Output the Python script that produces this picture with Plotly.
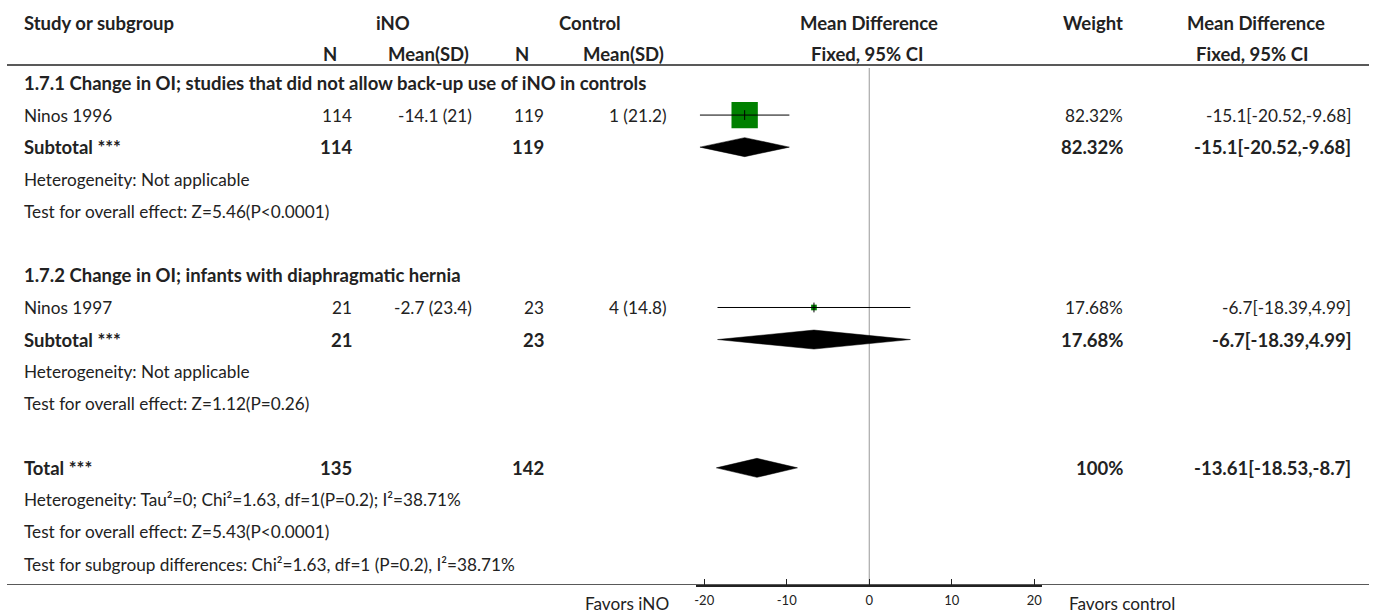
import plotly.graph_objects as go

W, H = 1375, 615
FONT = "Lato"
INK = "#222222"

# ---- study-level data ----
studies = ["Ninos 1996", "Ninos 1997"]
ino_n = [114, 21]
ino_mean = [-14.1, -2.7]
ino_sd = [21, 23.4]
ctl_n = [119, 23]
ctl_mean = [1, 4]
ctl_sd = [21.2, 14.8]
md = [-15.1, -6.7]
ci_lo = [-20.52, -18.39]
ci_hi = [-9.68, 4.99]
weights = [82.32, 17.68]

# ---- subgroup summaries ----
subgroup_titles = [
    "1.7.1 Change in OI; studies that did not allow back-up use of iNO in controls",
    "1.7.2 Change in OI; infants with diaphragmatic hernia",
]
sub_n_ino = [114, 21]
sub_n_ctl = [119, 23]
sub_md = [-15.1, -6.7]
sub_lo = [-20.52, -18.39]
sub_hi = [-9.68, 4.99]
sub_weight = [82.32, 17.68]
sub_het = ["Heterogeneity: Not applicable", "Heterogeneity: Not applicable"]
sub_test = ["Test for overall effect: Z=5.46(P<0.0001)",
            "Test for overall effect: Z=1.12(P=0.26)"]

# ---- overall summary ----
total_n_ino = 135
total_n_ctl = 142
total_md = -13.61
total_lo = -18.53
total_hi = -8.7
total_weight = 100
total_notes = [
    "Heterogeneity: Tau²=0; Chi²=1.63, df=1(P=0.2); I²=38.71%",
    "Test for overall effect: Z=5.43(P<0.0001)",
    "Test for subgroup differences: Chi²=1.63, df=1 (P=0.2), I²=38.71%",
]
axis_ticks = [-20, -10, 0, 10, 20]
axis_tick_labels = ["-20", "-10", "0", "10", "20"]
axis_range = [-21, 21]

# ---- layout geometry (pixels) ----
ROW0, DY = 83, 32.07
AXIS_Y = 585
X_LEFT = 20
X_NI, X_MI, X_NC, X_MC = 353, 473, 545, 668
X_W, X_MD = 1125, 1353
FS, FSB = 17.2, 18.5

def row_y(k):
    return ROW0 + k * DY

def fmt_pct(v):
    return f"{v:g}%"

def fmt_ci(m, lo, hi):
    return f"{m:g}[{lo:g},{hi:g}]"

fig = go.Figure()
ann = []

def txt(x, y, s, anchor="left", bold=False, size=None, xref="x2", yref="y"):
    if size is None:
        size = FSB if bold else FS
    ann.append(dict(x=x, y=y, xref=xref, yref=yref,
                    text=f"<b>{s}</b>" if bold else s,
                    showarrow=False, xanchor=anchor, yanchor="middle",
                    font=dict(family=FONT, size=size, color=INK)))

# column headers
txt(X_LEFT, 22.5, "Study or subgroup", bold=True)
txt(392, 22.5, "iNO", "center", True)
txt(589, 22.5, "Control", "center", True)
txt(868, 22.5, "Mean Difference", "center", True)
txt(X_W, 22.5, "Weight", "right", True)
txt(1256, 22.5, "Mean Difference", "center", True)
txt(337, 54, "N", "right", True)
txt(470, 54, "Mean(SD)", "right", True)
txt(530, 54, "N", "right", True)
txt(665, 54, "Mean(SD)", "right", True)
txt(866, 54, "Fixed, 95% CI", "center", True)
txt(1252, 54, "Fixed, 95% CI", "center", True)

def add_diamond(k, m, lo, hi):
    y = row_y(k)
    h = 9.5
    fig.add_trace(go.Scatter(x=[lo, m, hi, m, lo], y=[y, y - h, y, y + h, y],
                             xaxis="x", yaxis="y", mode="lines", fill="toself",
                             fillcolor="black", line=dict(color="black", width=0.5),
                             hoverinfo="skip", showlegend=False))

for g in range(2):
    base = g * 6
    txt(X_LEFT, row_y(base), subgroup_titles[g], bold=True)
    # study row
    k = base + 1
    y = row_y(k)
    txt(X_LEFT, y, studies[g])
    txt(X_NI, y, str(ino_n[g]), "right")
    txt(X_MI, y, f"{ino_mean[g]:g} ({ino_sd[g]:g})", "right")
    txt(X_NC, y, str(ctl_n[g]), "right")
    txt(X_MC, y, f"{ctl_mean[g]:g} ({ctl_sd[g]:g})", "right")
    txt(X_W, y, fmt_pct(weights[g]), "right")
    txt(X_MD, y, fmt_ci(md[g], ci_lo[g], ci_hi[g]), "right")
    fig.add_trace(go.Scatter(x=[md[g]], y=[y], xaxis="x", yaxis="y", mode="markers",
                             marker=dict(symbol="square", size=weights[g] * 0.32,
                                         color="#008000", line=dict(width=0)),
                             hoverinfo="skip", showlegend=False))
    fig.add_trace(go.Scatter(x=[ci_lo[g], ci_hi[g]], y=[y, y], xaxis="x", yaxis="y",
                             mode="lines", line=dict(color="black", width=1),
                             hoverinfo="skip", showlegend=False))
    fig.add_trace(go.Scatter(x=[md[g]], y=[y], xaxis="x", yaxis="y", mode="markers",
                             marker=dict(symbol="line-ns", size=7,
                                         line=dict(color="black", width=1)),
                             hoverinfo="skip", showlegend=False))
    # subtotal row
    k = base + 2
    y = row_y(k)
    txt(X_LEFT, y, "Subtotal ***", bold=True)
    txt(X_NI, y, str(sub_n_ino[g]), "right", True)
    txt(X_NC, y, str(sub_n_ctl[g]), "right", True)
    txt(X_W, y, fmt_pct(sub_weight[g]), "right", True)
    txt(X_MD, y, fmt_ci(sub_md[g], sub_lo[g], sub_hi[g]), "right", True)
    add_diamond(k, sub_md[g], sub_lo[g], sub_hi[g])
    txt(X_LEFT, row_y(base + 3), sub_het[g])
    txt(X_LEFT, row_y(base + 4), sub_test[g])

# overall effect
k = 12
y = row_y(k)
txt(X_LEFT, y, "Total ***", bold=True)
txt(X_NI, y, str(total_n_ino), "right", True)
txt(X_NC, y, str(total_n_ctl), "right", True)
txt(X_W, y, fmt_pct(total_weight), "right", True)
txt(X_MD, y, fmt_ci(total_md, total_lo, total_hi), "right", True)
add_diamond(k, total_md, total_lo, total_hi)
for i, note in enumerate(total_notes):
    txt(X_LEFT, row_y(13 + i), note)

# axis captions below the scale
txt(670, 1 - 603 / H, "Favors iNO", "right", yref="paper")
txt(1067, 1 - 603 / H, "Favors control", "left", yref="paper")

shapes = [
    dict(type="line", xref="x2", yref="y", x0=5, x1=1369, y0=65, y1=65,
         line=dict(color=INK, width=1.5)),
    dict(type="line", xref="x2", yref="y", x0=5, x1=1369, y0=AXIS_Y, y1=AXIS_Y,
         line=dict(color=INK, width=1.5)),
    dict(type="line", xref="x", yref="y", x0=0, x1=0, y0=68, y1=AXIS_Y,
         line=dict(color="#999999", width=1), layer="below"),
]

fig.update_layout(
    width=W, height=H, margin=dict(l=0, r=0, t=0, b=0),
    paper_bgcolor="white", plot_bgcolor="rgba(0,0,0,0)",
    xaxis=dict(domain=[695 / W, 1042 / W], range=axis_range, tickvals=axis_ticks,
               ticktext=axis_tick_labels, ticklabelstandoff=3,
               ticks="inside", ticklen=6, tickcolor=INK, showline=True, linecolor=INK,
               linewidth=1.5, showgrid=False, zeroline=False, anchor="y",
               tickfont=dict(family=FONT, size=13, color=INK)),
    xaxis2=dict(domain=[0, 1], range=[0, W], visible=False, anchor="y"),
    yaxis=dict(domain=[(H - AXIS_Y) / H, 1], range=[AXIS_Y, 0], visible=False),
    annotations=ann, shapes=shapes, showlegend=False,
)

fig.write_html("out.html")
